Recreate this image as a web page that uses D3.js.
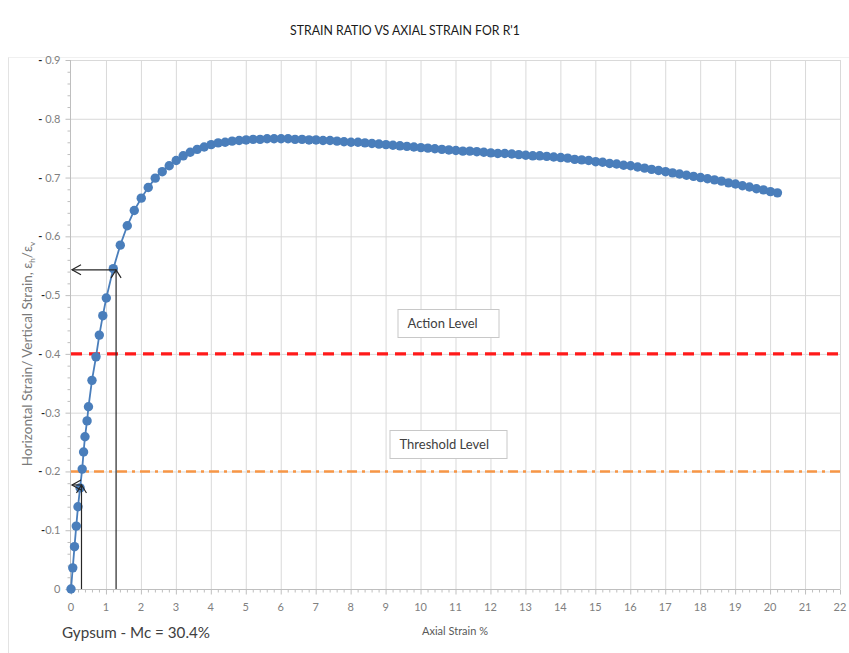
<!DOCTYPE html>
<html>
<head>
<meta charset="utf-8">
<script src="https://cdn.jsdelivr.net/npm/d3@7"></script>
<style>
  html, body { margin: 0; padding: 0; background: #ffffff; }
  svg { display: block; font-family: Lato, "Open Sans", sans-serif; }
</style>
</head>
<body>
<svg id="chart" width="849" height="653"></svg>
<script>
// ---- Data ----
const axialStrain = [
  0.00, 0.05, 0.10, 0.15, 0.20, 0.26, 0.32, 0.36, 0.40, 0.46, 0.50, 0.60, 0.715, 0.81, 0.91,
  1.01, 1.21, 1.41, 1.61, 1.81, 2.01, 2.21, 2.41, 2.61, 2.81, 3.01, 3.21, 3.41, 3.61, 3.81,
  4.01, 4.21, 4.41, 4.61, 4.81, 5.01, 5.21, 5.41, 5.61, 5.81, 6.01, 6.21, 6.41, 6.61, 6.81,
  7.01, 7.21, 7.41, 7.61, 7.81, 8.01, 8.21, 8.41, 8.61, 8.81, 9.01, 9.21, 9.41, 9.61, 9.81,
  10.01, 10.21, 10.41, 10.61, 10.81, 11.01, 11.21, 11.41, 11.61, 11.81, 12.01, 12.21, 12.41, 12.61, 12.81,
  13.01, 13.21, 13.41, 13.61, 13.81, 14.01, 14.21, 14.41, 14.61, 14.81, 15.01, 15.21, 15.41, 15.61, 15.81,
  16.01, 16.21, 16.41, 16.61, 16.81, 17.01, 17.21, 17.41, 17.61, 17.81, 18.01, 18.21, 18.41, 18.61, 18.81,
  19.01, 19.21, 19.41, 19.61, 19.81, 20.01, 20.21
];
const strainRatio = [
  0.000, 0.036, 0.072, 0.107, 0.140, 0.172, 0.204, 0.233, 0.259, 0.286, 0.310, 0.355, 0.395, 0.432, 0.465,
  0.495, 0.545, 0.585, 0.618, 0.644, 0.665, 0.683, 0.699, 0.710, 0.720, 0.729, 0.737, 0.743, 0.748, 0.752,
  0.756, 0.759, 0.760, 0.762, 0.763, 0.764, 0.765, 0.765, 0.766, 0.766, 0.766, 0.766, 0.765, 0.765, 0.764,
  0.764, 0.763, 0.763, 0.762, 0.761, 0.760, 0.760, 0.759, 0.758, 0.757, 0.756, 0.755, 0.754, 0.753, 0.752,
  0.751, 0.750, 0.749, 0.748, 0.747, 0.746, 0.745, 0.745, 0.744, 0.743, 0.742, 0.741, 0.741, 0.740, 0.739,
  0.738, 0.737, 0.737, 0.736, 0.735, 0.734, 0.733, 0.731, 0.730, 0.729, 0.727, 0.726, 0.724, 0.723, 0.721,
  0.720, 0.718, 0.716, 0.714, 0.712, 0.710, 0.708, 0.706, 0.704, 0.702, 0.700, 0.698, 0.696, 0.694, 0.691,
  0.689, 0.686, 0.684, 0.681, 0.679, 0.676, 0.674
];
const xTicks = d3.range(0, 23, 1);
const yTicks = [0, 0.1, 0.2, 0.3, 0.4, 0.5, 0.6, 0.7, 0.8, 0.9];
const yTickLabels = ["0", "-0.1", "- 0.2", "-0.3", "- 0.4", "-0.5", "- 0.6", "- 0.7", "- 0.8", "- 0.9"];
const levelValues = [0.4, 0.2];
const levelNames = ["Action Level", "Threshold Level"];
// annotation arrows: [x, y] of the read point
const arrowPoints = [[1.29, 0.543], [0.30, 0.177]];

const titleText = "STRAIN RATIO VS AXIAL STRAIN FOR R'1";
const xLabelText = "Axial Strain %";
const noteText = "Gypsum - Mc = 30.4%";

// ---- Layout ----
const svg = d3.select("#chart");
const W = 849, H = 653;
const plot = { left: 71, right: 840, top: 60, bottom: 589 };
const x = d3.scaleLinear().domain([0, 22]).range([plot.left, plot.right]);
const y = d3.scaleLinear().domain([0, 0.9]).range([plot.bottom, plot.top]);

const gridColor = "#d9d9d9";
const axisColor = "#bfbfbf";
const labelColor = "#808080";
const blue = "#4a7ebb";

// chart frame (partially visible)
svg.append("line").attr("x1", 8.5).attr("x2", 8.5).attr("y1", 57).attr("y2", H).attr("stroke", "#e3e3e3");
svg.append("line").attr("x1", 8.5).attr("x2", W).attr("y1", 57.5).attr("y2", 57.5).attr("stroke", "#f0f0f0");

// title
svg.append("text").attr("x", 405).attr("y", 35).attr("text-anchor", "middle")
  .attr("font-size", 12.5).attr("fill", "#1a1a1a")
  .attr("textLength", 230).attr("lengthAdjust", "spacingAndGlyphs")
  .text(titleText);

// gridlines
const grid = svg.append("g");
grid.selectAll("line.v").data(xTicks.filter(d => d > 0)).join("line")
  .attr("x1", d => x(d) + 0.5).attr("x2", d => x(d) + 0.5)
  .attr("y1", plot.top).attr("y2", plot.bottom)
  .attr("stroke", gridColor).attr("stroke-width", 1);
grid.selectAll("line.h").data(yTicks.filter(d => d > 0)).join("line")
  .attr("x1", plot.left).attr("x2", plot.right)
  .attr("y1", d => y(d) + 0.5).attr("y2", d => y(d) + 0.5)
  .attr("stroke", gridColor).attr("stroke-width", 1);

// x axis with minor ticks
const xMinor = d3.range(0, 22.001, 0.2);
const xAxisG = svg.append("g").attr("transform", `translate(0,${plot.bottom + 0.5})`);
xAxisG.append("line").attr("x1", plot.left).attr("x2", plot.right).attr("stroke", axisColor);
xAxisG.selectAll("line.mt").data(xMinor).join("line")
  .attr("x1", d => x(d) + 0.5).attr("x2", d => x(d) + 0.5)
  .attr("y1", 0).attr("y2", d => Math.abs(d - Math.round(d)) < 1e-6 ? 5 : 3)
  .attr("stroke", axisColor);
xAxisG.selectAll("text").data(xTicks).join("text")
  .attr("x", d => x(d)).attr("y", 21).attr("text-anchor", "middle")
  .attr("font-size", 11).attr("fill", labelColor).text(d => d);

// y axis with minor ticks
const yMinor = d3.range(0, 0.9001, 0.02);
const yAxisG = svg.append("g").attr("transform", `translate(${plot.left - 0.5},0)`);
yAxisG.append("line").attr("y1", plot.top).attr("y2", plot.bottom).attr("stroke", axisColor);
yAxisG.selectAll("line.mt").data(yMinor).join("line")
  .attr("y1", d => y(d) + 0.5).attr("y2", d => y(d) + 0.5)
  .attr("x1", 0).attr("x2", d => Math.abs(d * 10 - Math.round(d * 10)) < 1e-6 ? -5 : -3)
  .attr("stroke", axisColor);
const yLab = yAxisG.selectAll("text").data(yTicks).join("text")
  .attr("x", -10).attr("y", d => y(d) + 4).attr("text-anchor", "end")
  .attr("font-size", 11).attr("fill", labelColor);
yLab.each(function (d, i) {
  const s = yTickLabels[i];
  const t = d3.select(this);
  if (s.startsWith("-")) {
    t.append("tspan").attr("fill", "#1f1f1f").attr("font-weight", "bold").text(s.startsWith("- ") ? "- " : "-");
    t.append("tspan").text(s.replace(/^-\s?/, ""));
  } else {
    t.text(s);
  }
});

// y axis title
const yTitle = svg.append("text")
  .attr("transform", `translate(32,354) rotate(-90)`)
  .attr("text-anchor", "middle").attr("font-size", 13.5).attr("fill", "#7a7a7a");
yTitle.append("tspan").text("Horizontal Strain/ Vertical Strain, ε");
yTitle.append("tspan").attr("font-size", 8).attr("dy", 3).text("h");
yTitle.append("tspan").attr("dy", -3).text("/ε");
yTitle.append("tspan").attr("font-size", 8).attr("dy", 3).text("v");

// x axis title
svg.append("text").attr("x", 455).attr("y", 635).attr("text-anchor", "middle")
  .attr("font-size", 11).attr("fill", "#595959").text(xLabelText);

// note
svg.append("text").attr("x", 62).attr("y", 638)
  .attr("font-size", 16).attr("fill", "#404040")
  .attr("textLength", 148).attr("lengthAdjust", "spacingAndGlyphs").text(noteText);

// level lines
svg.append("line").attr("x1", x(0)).attr("x2", x(22))
  .attr("y1", y(levelValues[0])).attr("y2", y(levelValues[0]))
  .attr("stroke", "#ff1a1a").attr("stroke-width", 3.2).attr("stroke-dasharray", "11,7");
svg.append("line").attr("x1", x(0)).attr("x2", x(22))
  .attr("y1", y(levelValues[1])).attr("y2", y(levelValues[1]))
  .attr("stroke", "#f79646").attr("stroke-width", 2.5).attr("stroke-dasharray", "10,5,3,5");

// level text boxes
const boxes = [
  { name: levelNames[0], cx: 448, cy: 323, w: 101, h: 28 },
  { name: levelNames[1], cx: 448, cy: 444, w: 117, h: 28 }
];
boxes.forEach(b => {
  svg.append("rect").attr("x", b.cx - b.w / 2 + 0.5).attr("y", b.cy - b.h / 2 + 0.5)
    .attr("width", b.w).attr("height", b.h)
    .attr("fill", "#ffffff").attr("stroke", "#c8c8c8");
  svg.append("text").attr("x", b.cx - b.w / 2 + 10).attr("y", b.cy + 5)
    .attr("font-size", 13).attr("fill", "#404040").text(b.name);
});

// data series
const pts = axialStrain.map((d, i) => [d, strainRatio[i]]);
svg.append("path").datum(pts)
  .attr("d", d3.line().x(d => x(d[0])).y(d => y(d[1])))
  .attr("fill", "none").attr("stroke", blue).attr("stroke-width", 1.8);
svg.append("g").selectAll("circle").data(pts).join("circle")
  .attr("cx", d => x(d[0])).attr("cy", d => y(d[1])).attr("r", 4.7)
  .attr("fill", blue);

// annotation arrows
const arrowG = svg.append("g").attr("stroke", "#262626").attr("fill", "none").attr("stroke-width", 1.2);
arrowPoints.forEach(p => {
  const px = x(p[0]), py = y(p[1]);
  arrowG.append("line").attr("x1", px).attr("x2", px).attr("y1", y(0)).attr("y2", py);
  arrowG.append("path").attr("d", `M${px - 5},${py + 8} L${px},${py} L${px + 5},${py + 8}`);
  arrowG.append("line").attr("x1", px).attr("x2", x(0) + 1).attr("y1", py).attr("y2", py);
  const tx = x(0) + 1;
  arrowG.append("path").attr("d", `M${tx + 9},${py - 5} L${tx},${py} L${tx + 9},${py + 5}`);
});
</script>
</body>
</html>
